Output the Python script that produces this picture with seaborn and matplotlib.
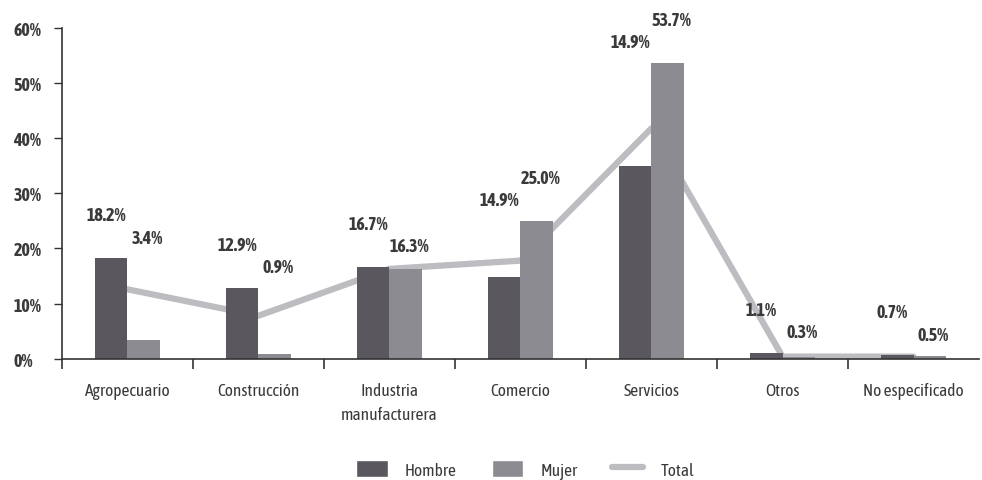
import numpy as np
import pandas as pd
import seaborn as sns
import matplotlib.pyplot as plt
from matplotlib import font_manager
from matplotlib.patches import Patch
from matplotlib.lines import Line2D

# Data
sectores = ['Agropecuario', 'Construcción', 'Industria\nmanufacturera', 'Comercio',
            'Servicios', 'Otros', 'No especificado']
hombre = [18.2, 12.9, 16.7, 14.9, 34.9, 1.1, 0.7]
mujer = [3.4, 0.9, 16.3, 25.0, 53.7, 0.3, 0.5]
total = [12.6, 7.8, 16.3, 17.8, 41.8, 0.4, 0.4]
# printed labels (as they appear in the original)
hombre_txt = ['18.2%', '12.9%', '16.7%', '14.9%', '14.9%', '1.1%', '0.7%']
mujer_txt = ['3.4%', '0.9%', '16.3%', '25.0%', '53.7%', '0.3%', '0.5%']

c_hombre = '#5b575f'
c_mujer = '#8d8b92'
c_total = '#bdbcc1'
txt = '#3a3a3a'

sns.set_style('white')

# look for a narrow/condensed face with a bold weight, the original uses one
narrow = {}
for f in font_manager.fontManager.ttflist:
    n = f.name.lower()
    if 'narrow' in n or 'condensed' in n:
        w = f.weight if isinstance(f.weight, int) else \
            font_manager.weight_dict.get(f.weight, 400)
        narrow.setdefault(f.name, set()).add(w)
fam = 'DejaVu Sans'
bold_ok = [k for k, v in narrow.items() if max(v) >= 600 and min(v) <= 500]
if bold_ok:
    fam = sorted(bold_ok)[0]
elif narrow:
    fam = sorted(narrow)[0]
plt.rcParams['font.family'] = [fam, 'DejaVu Sans']

df = pd.DataFrame({
    'sector': sectores * 2,
    'valor': hombre + mujer,
    'sexo': ['Hombre'] * len(sectores) + ['Mujer'] * len(sectores),
})

fig = plt.figure(figsize=(9.82, 4.81), dpi=100)
ax = fig.add_axes([0.063, 0.252, 0.934, 0.688])

sns.barplot(data=df, x='sector', y='valor', hue='sexo', order=sectores,
            palette={'Hombre': c_hombre, 'Mujer': c_mujer}, width=0.5,
            gap=0, saturation=1, legend=False, linewidth=0, ax=ax, zorder=2)

sns.lineplot(x=np.arange(len(sectores)), y=total, color=c_total, linewidth=4.5,
             ax=ax, zorder=1)

# value labels
for i, (h, m) in enumerate(zip(hombre, mujer)):
    top = max(h, m) + 7.8
    hy, my = (top, top - 4.1) if h >= m else (top - 4.1, top)
    ax.text(i - 0.16, hy, hombre_txt[i], ha='center', va='center',
            fontsize=13, fontweight='bold', color=txt)
    ax.text(i + 0.15, my, mujer_txt[i], ha='center', va='center',
            fontsize=13, fontweight='bold', color=txt)

ax.set_xlim(-0.5, len(sectores) - 0.5)
ax.set_ylim(0, 60)
ax.set_yticks(range(0, 61, 10))
ax.set_yticklabels([f'{v}%' for v in range(0, 61, 10)], fontsize=13,
                   fontweight='bold', color=txt, ha='left')
ax.tick_params(axis='y', left=True, length=6, width=1, pad=29, color='#333333')
ax.set_xticks(range(len(sectores)))
ax.set_xticklabels(sectores, fontsize=12.5, color=txt, linespacing=1.5)
ax.set_xticks(np.arange(-0.5, len(sectores) - 0.5, 1), minor=True)
ax.tick_params(axis='x', which='major', length=0, pad=17)
ax.tick_params(axis='x', which='minor', bottom=True, length=7, width=1.2,
               color='#333333')
ax.set_xlabel('')
ax.set_ylabel('')

for s in ['top', 'right']:
    ax.spines[s].set_visible(False)
for s in ['left', 'bottom']:
    ax.spines[s].set_color('#333333')
    ax.spines[s].set_linewidth(1.2)

handles = [Patch(facecolor=c_hombre), Patch(facecolor=c_mujer),
           Line2D([0], [0], color=c_total, linewidth=4.5)]
fig.legend(handles, ['Hombre', 'Mujer', 'Total'], loc='center',
           bbox_to_anchor=(0.535, 0.022), ncol=3, frameon=False,
           fontsize=12.5, handlelength=1.8, handleheight=1.1,
           columnspacing=2.0, handletextpad=1.0, labelcolor=txt)

fig.savefig('out.png', dpi=100)
